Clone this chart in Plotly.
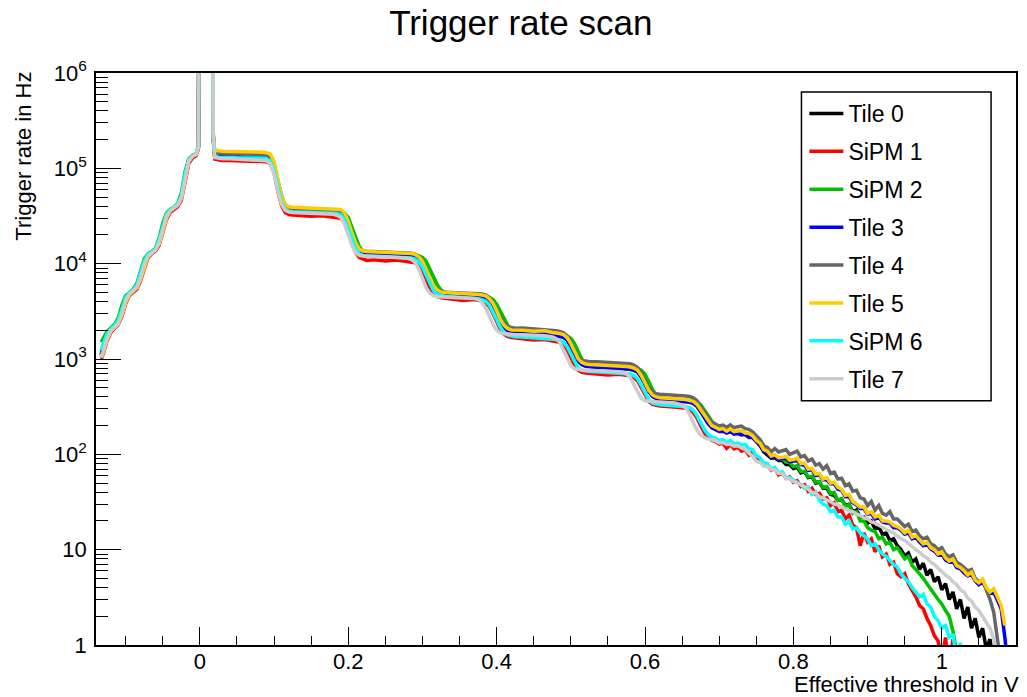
import plotly.graph_objects as go

# Effective threshold of each scan point (V)
THRESHOLD_V = [
    -0.133, -0.13, -0.125, -0.12, -0.115, -0.11, -0.105, -0.1, -0.095, -0.09,
    -0.085, -0.08, -0.075, -0.07, -0.065, -0.06, -0.055, -0.05, -0.045, -0.04,
    -0.035, -0.03, -0.025, -0.02, -0.015, -0.01, -0.005, -0.002, -0.001,
    0.017, 0.018, 0.02, 0.025, 0.03, 0.04, 0.05, 0.06, 0.07, 0.08, 0.09,
    0.095, 0.1, 0.105, 0.11, 0.115, 0.12, 0.125,
    0.135, 0.15, 0.165, 0.18,
    0.185, 0.19, 0.195, 0.2, 0.205, 0.21, 0.215, 0.22, 0.225,
    0.235, 0.25, 0.265, 0.275,
    0.28, 0.285, 0.29, 0.295, 0.3, 0.305, 0.31, 0.315, 0.32, 0.325, 0.33,
    0.34, 0.355, 0.37,
    0.375, 0.38, 0.385, 0.39, 0.395, 0.4, 0.405, 0.41, 0.415, 0.42, 0.425,
    0.435, 0.45, 0.465, 0.475,
    0.48, 0.485, 0.49, 0.495, 0.5, 0.505, 0.51, 0.515, 0.52, 0.525,
    0.535, 0.55, 0.565,
    0.57, 0.575, 0.58, 0.585, 0.59, 0.595, 0.6, 0.605, 0.61, 0.615, 0.62,
    0.63, 0.64,
    0.645, 0.65, 0.655, 0.66, 0.665, 0.67, 0.675, 0.68, 0.685, 0.69,
    0.695, 0.7, 0.705, 0.71, 0.715, 0.72, 0.725, 0.73, 0.735, 0.74,
    0.745, 0.75, 0.755, 0.76, 0.765, 0.77, 0.775, 0.78, 0.785, 0.79,
    0.795, 0.8, 0.805, 0.81, 0.815, 0.82, 0.825, 0.83, 0.835, 0.84,
    0.845, 0.85, 0.855, 0.86, 0.865, 0.87, 0.875, 0.88, 0.885, 0.89,
    0.895, 0.9, 0.905, 0.91, 0.915, 0.92, 0.925, 0.93, 0.935, 0.94,
    0.945, 0.95, 0.955, 0.96, 0.965, 0.97, 0.975, 0.98, 0.985, 0.99,
    0.995, 1.0, 1.005, 1.01, 1.015, 1.02, 1.025, 1.03, 1.035, 1.04,
    1.045, 1.05, 1.055, 1.06, 1.065, 1.07, 1.075, 1.08, 1.085, 1.09,
]

N = None

# Trigger rates in Hz, one list per channel
RATE_TILE0 = [
    1120, 1320, 1780, 2040, 2190, 2400, 3160, 4270, 4900, 5250,
    5750, 7410, 1.02e4, 1.23e4, 1.32e4, 1.41e4, 1.70e4, 2.40e4, 3.24e4, 3.63e4,
    3.85e4, 4.12e4, 5.0e4, 8.5e4, 1.23e5, 1.35e5, 1.41e5, 1.66e5, 2e7,
    2e7, 2.2e5, 1.35e5, 1.32e5, 1.32e5, 1.31e5, 1.31e5, 1.30e5, 1.30e5, 1.29e5, 1.27e5,
    1.22e5, 1.0e5, 6.5e4, 4.6e4, 3.9e4, 3.65e4, 3.6e4,
    3.55e4, 3.5e4, 3.48e4, 3.42e4,
    3.4e4, 3.35e4, 3.1e4, 2.55e4, 1.95e4, 1.55e4, 1.36e4, 1.31e4, 1.29e4,
    1.28e4, 1.27e4, 1.26e4, 1.25e4,
    1.24e4, 1.23e4, 1.21e4, 1.16e4, 1.06e4, 8.9e3, 7.2e3, 6.0e3, 5.3e3, 5.0e3, 4.9e3,
    4.85e3, 4.75e3, 4.65e3,
    4.6e3, 4.5e3, 4.4e3, 4.15e3, 3.7e3, 3.1e3, 2.55e3, 2.2e3, 2.02e3, 1.95e3, 1.92e3,
    1.9e3, 1.87e3, 1.84e3, 1.8e3,
    1.78e3, 1.76e3, 1.7e3, 1.6e3, 1.38e3, 1.12e3, 960, 880, 850, 840,
    830, 815, 800,
    795, 790, 780, 765, 730, 650, 550, 460, 410, 390, 380,
    375, 370,
    368, 365, 362, 358, 350, 325, 285, 245, 215, 195,
    186, 178, 181, 172, 177, 168, 171, 163, 165, 156,
    150, 136, 124, 106, 99, 91, 92, 86, 86, 78,
    78, 71, 73, 64, 66, 57, 58, 50, 51, 44,
    44, 38, 37, 33, 34, 29, 30, 25, 26, 22,
    22, 19, 20, 16.5, 17.5, 14.5, 15, 12.5, 13, 11,
    10, 8.6, 9.2, 7.4, 8.0, 6.2, 7.2, 5.4, 6.2, 4.6,
    5.2, 3.8, 4.4, 3.0, 3.6, 2.4, 3.0, 1.9, 2.5, 1.5,
    1.9, 1.2, 1.5, 0.9, 1.15, 0.6, N, N, N, N,
]

RATE_SIPM1 = [
    1000, 1150, 1550, 1900, 2100, 2300, 2800, 3800, 4600, 5000,
    5400, 6600, 9000, 1.15e4, 1.27e4, 1.36e4, 1.55e4, 2.1e4, 2.9e4, 3.45e4,
    3.7e4, 3.95e4, 4.6e4, 7.4e4, 1.12e5, 1.28e5, 1.36e5, 1.6e5, 2e7,
    2e7, 2.0e5, 1.25e5, 1.22e5, 1.21e5, 1.21e5, 1.2e5, 1.2e5, 1.19e5, 1.19e5, 1.17e5,
    1.12e5, 9.0e4, 5.8e4, 4.1e4, 3.45e4, 3.28e4, 3.24e4,
    3.2e4, 3.15e4, 3.18e4, 3.1e4,
    3.08e4, 3.0e4, 2.7e4, 2.15e4, 1.62e4, 1.3e4, 1.16e4, 1.12e4, 1.08e4,
    1.1e4, 1.07e4, 1.09e4, 1.07e4,
    1.06e4, 1.05e4, 1.02e4, 9.5e3, 8.3e3, 6.8e3, 5.5e3, 4.8e3, 4.5e3, 4.4e3, 4.35e3,
    4.3e3, 4.1e3, 4.2e3,
    4.15e3, 4.05e3, 3.9e3, 3.55e3, 3.0e3, 2.45e3, 2.05e3, 1.82e3, 1.72e3, 1.68e3, 1.66e3,
    1.64e3, 1.58e3, 1.6e3, 1.55e3,
    1.53e3, 1.5e3, 1.42e3, 1.26e3, 1.04e3, 860, 760, 725, 715, 710,
    700, 680, 690,
    680, 675, 665, 640, 590, 500, 420, 360, 335, 325, 322,
    318, 315,
    312, 308, 304, 296, 275, 240, 200, 168, 150, 140,
    136, 128, 131, 116, 127, 114, 119, 108, 112, 98,
    105, 92, 90, 78, 77, 68, 71, 61, 64, 56,
    58, 51, 53, 46, 48, 41, 44, 38, 39, 34,
    35, 29, 31, 25, 26, 21, 23, 18, 17, 11,
    15, 12, 13, 9.5, 11, 8.4, 9, 7.0, 7.4, 5.6,
    5.2, 5.6, 4.4, 3.8, 3.2, 2.6, 2.4, 1.9, 1.6, 1.25,
    1.1, 0.7, 1.2, 0.5, 1.15, 0.5, N, N, N, N,
    N, N, N, N, N, N, N, N, N, N,
]

RATE_SIPM2 = [
    1500, 1650, 1950, 2120, 2300, 2700, 3700, 4600, 5050, 5400,
    6200, 8300, 1.12e4, 1.27e4, 1.34e4, 1.45e4, 1.85e4, 2.65e4, 3.4e4, 3.7e4,
    3.9e4, 4.25e4, 5.5e4, 9.2e4, 1.26e5, 1.36e5, 1.42e5, 1.7e5, 2e7,
    2e7, 2.1e5, 1.34e5, 1.31e5, 1.3e5, 1.3e5, 1.29e5, 1.29e5, 1.28e5, 1.28e5, 1.27e5,
    1.24e5, 1.1e5, 7.8e4, 5.2e4, 4.1e4, 3.75e4, 3.65e4,
    3.62e4, 3.6e4, 3.58e4, 3.54e4,
    3.52e4, 3.5e4, 3.4e4, 3.05e4, 2.4e4, 1.85e4, 1.5e4, 1.35e4, 1.3e4,
    1.28e4, 1.27e4, 1.26e4, 1.25e4,
    1.24e4, 1.24e4, 1.23e4, 1.21e4, 1.16e4, 1.06e4, 8.9e3, 7.2e3, 6.0e3, 5.3e3, 5.0e3,
    4.9e3, 4.8e3, 4.7e3,
    4.65e3, 4.6e3, 4.55e3, 4.45e3, 4.2e3, 3.75e3, 3.15e3, 2.6e3, 2.25e3, 2.05e3, 1.95e3,
    1.9e3, 1.87e3, 1.85e3, 1.82e3,
    1.8e3, 1.79e3, 1.77e3, 1.74e3, 1.65e3, 1.45e3, 1.18e3, 990, 900, 865,
    850, 835, 815,
    810, 805, 800, 795, 785, 760, 690, 580, 480, 420, 395,
    382, 378,
    375, 372, 370, 366, 360, 350, 330, 295, 255, 222,
    200, 186, 182, 172, 178, 167, 170, 163, 166, 157,
    158, 148, 141, 123, 112, 98, 97, 89, 90, 83,
    82, 74, 76, 66, 66, 58, 59, 51, 52, 45,
    46, 39, 40, 33, 34, 28, 30, 24, 25, 20,
    20, 17, 16, 15.5, 13, 13.5, 11.5, 12, 10, 10.5,
    9, 8, 8.5, 6.8, 6.2, 5.6, 5.0, 4.4, 3.8, 3.4,
    3.0, 2.7, 2.3, 2.0, 1.4, 0.9, 0.5, N, N, N,
    N, N, N, N, N, N, N, N, N, N,
]

RATE_TILE3 = [
    1100, 1300, 1750, 2030, 2180, 2390, 3100, 4200, 4880, 5230,
    5720, 7300, 1.0e4, 1.22e4, 1.31e4, 1.4e4, 1.68e4, 2.35e4, 3.2e4, 3.62e4,
    3.84e4, 4.1e4, 4.95e4, 8.4e4, 1.22e5, 1.35e5, 1.41e5, 1.66e5, 2e7,
    2e7, 2.2e5, 1.36e5, 1.33e5, 1.32e5, 1.31e5, 1.31e5, 1.3e5, 1.3e5, 1.29e5, 1.27e5,
    1.22e5, 1.0e5, 6.5e4, 4.6e4, 3.9e4, 3.65e4, 3.6e4,
    3.56e4, 3.52e4, 3.5e4, 3.45e4,
    3.42e4, 3.37e4, 3.12e4, 2.56e4, 1.95e4, 1.55e4, 1.35e4, 1.3e4, 1.28e4,
    1.27e4, 1.26e4, 1.25e4, 1.24e4,
    1.23e4, 1.22e4, 1.2e4, 1.14e4, 1.03e4, 8.5e3, 6.9e3, 5.8e3, 5.15e3, 4.9e3, 4.82e3,
    4.8e3, 4.72e3, 4.62e3,
    4.58e3, 4.5e3, 4.4e3, 4.1e3, 3.65e3, 3.05e3, 2.5e3, 2.15e3, 1.98e3, 1.92e3, 1.9e3,
    1.88e3, 1.85e3, 1.86e3, 1.79e3,
    1.77e3, 1.75e3, 1.69e3, 1.58e3, 1.35e3, 1.1e3, 950, 870, 840, 830,
    825, 812, 800,
    795, 790, 780, 762, 725, 645, 545, 455, 405, 385, 375,
    370, 365,
    362, 360, 357, 352, 343, 318, 280, 240, 210, 190,
    182, 174, 175, 167, 173, 163, 165, 160, 161, 150,
    150, 136, 125, 109, 103, 93, 95, 89, 90, 91,
    84, 85, 86, 78, 77, 68, 69, 60, 61, 54,
    54, 49, 49, 43, 42, 36, 36, 31, 29.5, 27,
    27, 23.5, 24, 21, 22, 19.5, 19, 19, 17, 17,
    16, 14.5, 15, 13, 13.5, 12, 11, 11.5, 10.2, 9.6,
    8.8, 9.0, 7.8, 7.4, 7.6, 6.5, 6.3, 5.7, 5.3, 5.5,
    4.7, 4.3, 4.6, 3.9, 3.5, 3.6, 3.0, 2.4, 1.2, 0.5,
]

RATE_TILE4 = [
    1080, 1280, 1720, 2020, 2180, 2380, 3050, 4150, 4850, 5200,
    5700, 7200, 9900, 1.21e4, 1.31e4, 1.4e4, 1.66e4, 2.3e4, 3.15e4, 3.6e4,
    3.83e4, 4.1e4, 4.9e4, 8.2e4, 1.2e5, 1.34e5, 1.41e5, 1.68e5, 2e7,
    2e7, 2.3e5, 1.46e5, 1.44e5, 1.43e5, 1.43e5, 1.42e5, 1.42e5, 1.41e5, 1.4e5, 1.38e5,
    1.33e5, 1.1e5, 7.2e4, 4.95e4, 4.1e4, 3.85e4, 3.8e4,
    3.78e4, 3.75e4, 3.72e4, 3.68e4,
    3.65e4, 3.6e4, 3.33e4, 2.72e4, 2.05e4, 1.62e4, 1.41e4, 1.36e4, 1.35e4,
    1.34e4, 1.33e4, 1.32e4, 1.31e4,
    1.3e4, 1.29e4, 1.26e4, 1.19e4, 1.07e4, 8.8e3, 7.1e3, 6.0e3, 5.4e3, 5.1e3, 5.02e3,
    5.0e3, 4.95e3, 4.9e3,
    4.85e3, 4.8e3, 4.7e3, 4.4e3, 3.9e3, 3.25e3, 2.7e3, 2.35e3, 2.18e3, 2.12e3, 2.1e3,
    2.12e3, 2.08e3, 2.05e3, 2.0e3,
    1.98e3, 1.95e3, 1.88e3, 1.75e3, 1.5e3, 1.22e3, 1.05e3, 965, 940, 935,
    935, 925, 910,
    905, 900, 890, 865, 815, 720, 600, 500, 450, 432, 428,
    425, 420,
    418, 415, 410, 405, 392, 365, 320, 275, 240, 215,
    207, 198, 202, 192, 204, 190, 195, 198, 186, 183,
    172, 156, 143, 123, 118, 106, 115, 106, 108, 112,
    100, 104, 108, 94, 97, 85, 89, 77, 80, 70,
    76, 63, 65, 55, 56, 47, 49, 41, 42, 35,
    34, 29, 32, 26, 29, 24, 23, 25, 21, 21,
    19, 17.5, 18.5, 15.5, 16, 14, 13, 13.5, 11.5, 11,
    10, 10.5, 9, 8.4, 8.8, 7.4, 7.0, 6.4, 6.0, 6.2,
    5.0, 4.6, 4.8, 3.8, 3.0, 2.2, 1.2, 0.6, N, N,
]

RATE_TILE5 = [
    1050, 1200, 1600, 1950, 2150, 2350, 2900, 3900, 4700, 5100,
    5600, 6800, 9300, 1.18e4, 1.3e4, 1.4e4, 1.6e4, 2.2e4, 3.0e4, 3.6e4,
    3.85e4, 4.1e4, 4.8e4, 7.8e4, 1.18e5, 1.34e5, 1.42e5, 1.7e5, 2e7,
    2e7, 2.4e5, 1.55e5, 1.52e5, 1.51e5, 1.5e5, 1.5e5, 1.49e5, 1.49e5, 1.48e5, 1.46e5,
    1.41e5, 1.18e5, 7.6e4, 5.1e4, 4.2e4, 3.95e4, 3.9e4,
    3.88e4, 3.85e4, 3.82e4, 3.78e4,
    3.75e4, 3.7e4, 3.42e4, 2.8e4, 2.1e4, 1.65e4, 1.42e4, 1.36e4, 1.34e4,
    1.33e4, 1.32e4, 1.31e4, 1.3e4,
    1.29e4, 1.28e4, 1.25e4, 1.18e4, 1.06e4, 8.7e3, 7.0e3, 5.9e3, 5.3e3, 5.05e3, 4.98e3,
    4.95e3, 4.85e3, 4.8e3,
    4.75e3, 4.7e3, 4.6e3, 4.3e3, 3.85e3, 3.2e3, 2.6e3, 2.25e3, 2.08e3, 2.02e3, 2.0e3,
    2.0e3, 1.96e3, 1.98e3, 1.9e3,
    1.88e3, 1.85e3, 1.8e3, 1.68e3, 1.45e3, 1.18e3, 1.0e3, 920, 885, 875,
    870, 860, 850,
    840, 835, 825, 805, 760, 670, 560, 470, 420, 400, 392,
    390, 385,
    382, 378, 375, 370, 360, 335, 295, 255, 222, 200,
    192, 183, 186, 175, 185, 173, 176, 178, 167, 166,
    157, 140, 131, 112, 108, 96, 99, 92, 93, 95,
    87, 88, 91, 80, 81, 70, 71, 62, 63, 55,
    57, 50, 51, 45, 43, 37, 38, 32, 30, 28,
    28, 24, 25, 22, 23, 20, 20, 19.5, 18, 17.5,
    16.5, 15, 16, 13.5, 14, 12.5, 11.5, 12, 10.5, 10,
    9, 9.5, 8.2, 7.6, 8, 6.8, 6.5, 6.0, 5.4, 5.8,
    4.8, 4.5, 4.9, 4.0, 3.6, 3.9, 3.1, 2.6, 1.6, N,
]

RATE_SIPM6 = [
    1250, 1450, 1850, 2080, 2230, 2550, 3400, 4400, 4950, 5300,
    5950, 7800, 1.06e4, 1.25e4, 1.33e4, 1.42e4, 1.78e4, 2.5e4, 3.3e4, 3.65e4,
    3.87e4, 4.2e4, 5.2e4, 8.8e4, 1.24e5, 1.35e5, 1.41e5, 1.68e5, 2e7,
    2e7, 2.2e5, 1.34e5, 1.31e5, 1.3e5, 1.3e5, 1.29e5, 1.29e5, 1.28e5, 1.28e5, 1.26e5,
    1.19e5, 9.6e4, 6.2e4, 4.4e4, 3.75e4, 3.55e4, 3.5e4,
    3.47e4, 3.45e4, 3.42e4, 3.38e4,
    3.35e4, 3.25e4, 2.95e4, 2.35e4, 1.78e4, 1.43e4, 1.27e4, 1.22e4, 1.21e4,
    1.2e4, 1.19e4, 1.18e4, 1.17e4,
    1.16e4, 1.15e4, 1.12e4, 1.05e4, 9.2e3, 7.5e3, 6.1e3, 5.2e3, 4.75e3, 4.6e3, 4.55e3,
    4.5e3, 4.42e3, 4.35e3,
    4.3e3, 4.2e3, 4.05e3, 3.7e3, 3.15e3, 2.6e3, 2.15e3, 1.9e3, 1.78e3, 1.73e3, 1.71e3,
    1.7e3, 1.67e3, 1.65e3, 1.62e3,
    1.6e3, 1.57e3, 1.5e3, 1.35e3, 1.12e3, 920, 800, 760, 745, 740,
    735, 725, 715,
    710, 705, 695, 670, 620, 530, 440, 375, 345, 335, 332,
    328, 325,
    322, 318, 315, 308, 290, 255, 215, 182, 162, 152,
    148, 140, 143, 133, 140, 129, 131, 125, 127, 114,
    112, 97, 92, 81, 80, 70, 73, 64, 66, 56,
    57, 54, 50, 48, 44, 45, 38, 40, 33, 30,
    29, 25, 26, 22, 22, 18.5, 20, 16.5, 17, 15,
    14, 13, 11, 11.5, 10, 9, 8.5, 7.6, 7.0, 6.6,
    5.6, 5.0, 4.6, 4.0, 3.6, 3.2, 3.4, 2.7, 2.5, 2.0,
    1.8, 1.5, 1.6, 1.2, 1.3, 0.7, 1.05, 0.5, N, N,
    N, N, N, N, N, N, N, N, N, N,
]

RATE_TILE7 = [
    1030, 1200, 1650, 1980, 2150, 2350, 3000, 4100, 4800, 5150,
    5650, 7100, 9700, 1.2e4, 1.3e4, 1.39e4, 1.64e4, 2.28e4, 3.1e4, 3.58e4,
    3.82e4, 4.08e4, 4.85e4, 8.0e4, 1.19e5, 1.34e5, 1.4e5, 1.65e5, 2e7,
    2e7, 2.1e5, 1.3e5, 1.27e5, 1.26e5, 1.26e5, 1.25e5, 1.25e5, 1.24e5, 1.23e5, 1.2e5,
    1.12e5, 8.8e4, 5.8e4, 4.2e4, 3.65e4, 3.48e4, 3.44e4,
    3.42e4, 3.4e4, 3.37e4, 3.3e4,
    3.22e4, 3.05e4, 2.6e4, 2.0e4, 1.55e4, 1.3e4, 1.22e4, 1.2e4, 1.19e4,
    1.18e4, 1.18e4, 1.17e4, 1.16e4,
    1.14e4, 1.11e4, 1.03e4, 8.8e3, 7.0e3, 5.6e3, 4.9e3, 4.6e3, 4.5e3, 4.48e3, 4.46e3,
    4.45e3, 4.4e3, 4.3e3,
    4.2e3, 3.95e3, 3.45e3, 2.85e3, 2.3e3, 2.0e3, 1.88e3, 1.84e3, 1.82e3, 1.81e3, 1.8e3,
    1.8e3, 1.78e3, 1.75e3, 1.7e3,
    1.64e3, 1.5e3, 1.25e3, 1.0e3, 850, 790, 770, 765, 762, 760,
    758, 752, 735,
    725, 700, 640, 540, 440, 385, 365, 360, 358, 356, 355,
    352, 345,
    338, 328, 305, 265, 215, 180, 160, 150, 145, 142,
    139, 132, 133, 127, 128, 122, 123, 117, 113, 103,
    96, 84, 82, 75, 75, 69, 69, 63, 63, 56,
    55, 52, 50, 48, 46, 43, 40, 39, 36, 35,
    33, 32, 30, 29.5, 28, 27, 25.5, 25, 23.5, 23,
    21.5, 21, 19.5, 19, 18, 17, 16.5, 15.5, 15, 14,
    13, 12.5, 11.5, 10.8, 10, 9.4, 8.6, 8.2, 7.4, 7.0,
    6.4, 6.0, 5.4, 5.1, 4.6, 4.3, 3.8, 3.6, 3.1, 2.9,
    2.5, 2.3, 2.0, 1.7, 1.5, 1.15, 0.8, 0.5, N, N,
]

CHANNEL_NAMES = ["Tile 0", "SiPM 1", "SiPM 2", "Tile 3", "Tile 4", "Tile 5", "SiPM 6", "Tile 7"]
CHANNEL_RATES = [RATE_TILE0, RATE_SIPM1, RATE_SIPM2, RATE_TILE3,
                 RATE_TILE4, RATE_TILE5, RATE_SIPM6, RATE_TILE7]
CHANNEL_COLORS = ["#000000", "#ff0000", "#00c000", "#0000ff",
                  "#666666", "#ffcc00", "#00ffff", "#cccccc"]

Y_TICK_VALUES = [1, 10, 100, 1e3, 1e4, 1e5, 1e6]
Y_TICK_TEXT = ["1", "10", "10<sup>2</sup>", "10<sup>3</sup>", "10<sup>4</sup>",
               "10<sup>5</sup>", "10<sup>6</sup>"]

for rates in CHANNEL_RATES:
    assert len(rates) == len(THRESHOLD_V), len(rates)

FONT = "Liberation Sans, Arial, Helvetica, sans-serif"

fig = go.Figure()
for name, rates, color in zip(CHANNEL_NAMES, CHANNEL_RATES, CHANNEL_COLORS):
    fig.add_trace(go.Scatter(
        x=THRESHOLD_V, y=rates, mode="lines", name=name, legendgroup=name,
        line=dict(color=color, width=3.5), connectgaps=False,
    ))

# log-axis minor ticks at 2..9 within each decade
minor_y = [m * 10 ** k for k in range(6) for m in range(2, 10)]

fig.update_xaxes(
    range=[-0.14, 1.10], showgrid=False, zeroline=False,
    showline=True, linecolor="black", linewidth=1.5, mirror=True,
    ticks="inside", ticklen=18, tickwidth=1.2, tickcolor="black",
    tick0=0, dtick=0.2, ticklabelstandoff=-4,
    minor=dict(ticks="inside", ticklen=9, tickwidth=1.2, tickcolor="black",
               tick0=0, dtick=0.05, showgrid=False),
    tickfont=dict(size=22, family=FONT, color="black"),
)
fig.update_yaxes(
    type="log", range=[0, 6], showgrid=False, zeroline=False,
    showline=True, linecolor="black", linewidth=1.5, mirror=True,
    ticks="inside", ticklen=25, tickwidth=1.2, tickcolor="black",
    tickmode="array", tickvals=Y_TICK_VALUES, ticktext=Y_TICK_TEXT,
    ticklabelstandoff=3,
    minor=dict(ticks="inside", ticklen=12, tickwidth=1.2, tickcolor="black",
               tickmode="array", tickvals=minor_y, showgrid=False),
    tickfont=dict(size=22, family=FONT, color="black"),
)

fig.update_layout(
    width=1027, height=697,
    margin=dict(l=96, r=9, t=73, b=52),
    paper_bgcolor="white", plot_bgcolor="white",
    font=dict(family=FONT, size=22, color="black"),
    title=dict(text="Trigger rate scan", x=0.4617, xref="paper", xanchor="center",
               y=0.968, yref="container", yanchor="middle",
               font=dict(size=35, family=FONT, color="black")),
    showlegend=True,
    legend=dict(x=0.770, y=0.9668, xanchor="left", yanchor="top",
                bgcolor="rgba(0,0,0,0)", borderwidth=0,
                font=dict(size=23, family=FONT, color="black"),
                tracegroupgap=5, itemwidth=34),
    shapes=[dict(type="rect", xref="paper", yref="paper",
                 x0=0.7668, x1=0.9729, y0=0.4271, y1=0.9668,
                 line=dict(color="black", width=1.5), fillcolor="white",
                 layer="above")],
    annotations=[
        dict(text="Effective threshold in V", xref="paper", yref="paper",
             x=1.0054, y=-0.0682, xanchor="right", yanchor="middle",
             showarrow=False, font=dict(size=22, family=FONT, color="black")),
        dict(text="Trigger rate in Hz", xref="paper", yref="paper",
             x=-0.0792, y=1.0052, xanchor="center", yanchor="top", textangle=-90,
             showarrow=False, font=dict(size=22, family=FONT, color="black")),
    ],
)

fig.write_html("out.html", config={"displayModeBar": False})
